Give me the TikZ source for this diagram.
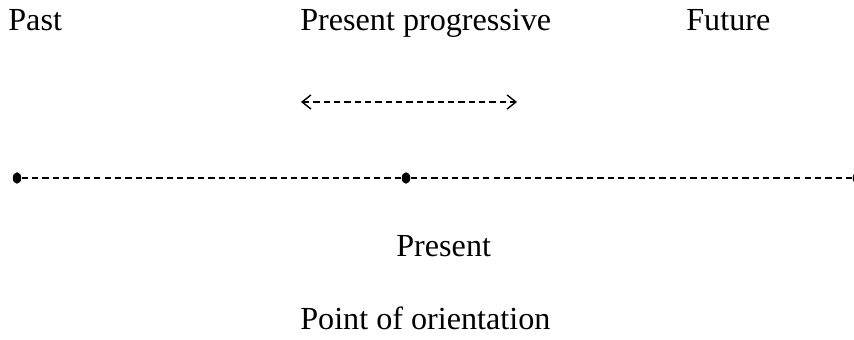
\documentclass[tikz,border=0pt]{standalone}
\usepackage{fontspec}
\setmainfont{Liberation Serif}
\usetikzlibrary{arrows.meta,shapes.geometric}

\begin{document}
\begin{tikzpicture}[x=0.02cm, y=-0.02cm,
    every node/.style={inner sep=0pt, font=\fontsize{18.3}{20}\selectfont},
    dot/.style={ellipse, fill=black, minimum width=0.17cm, minimum height=0.23cm},
    tline/.style={line width=1.3pt, dash pattern=on 3.6pt off 2.3pt},
    barb/.tip={Straight Barb[length=5pt, width=8pt, line width=0.8pt]}]
    \useasboundingbox (0,0) rectangle (854,340);

    % labels above the line
    \node[anchor=base west] (past) at (8, 31) {Past};
    \node[anchor=base west] (prog) at (300, 31) {Present progressive};
    \node[anchor=base west] (future) at (686, 31) {Future};

    % span of the progressive
    \coordinate (s1) at (301, 102);
    \coordinate (s2) at (517, 102);
    \draw[tline, barb-barb] (s1) -- (s2);

    % time line
    \node[dot] (t0) at (17, 178) {};
    \node[dot] (t1) at (406, 178) {};
    \node[dot] (t2) at (857, 178) {};
    \draw[tline] (t0) -- (t1);
    \draw[tline] (t1) -- (t2);

    % labels below the line
    \node[anchor=base west] (pres) at (396, 257) {Present};
    \node[anchor=base west] (orient) at (300, 330) {Point of orientation};
\end{tikzpicture}
\end{document}
